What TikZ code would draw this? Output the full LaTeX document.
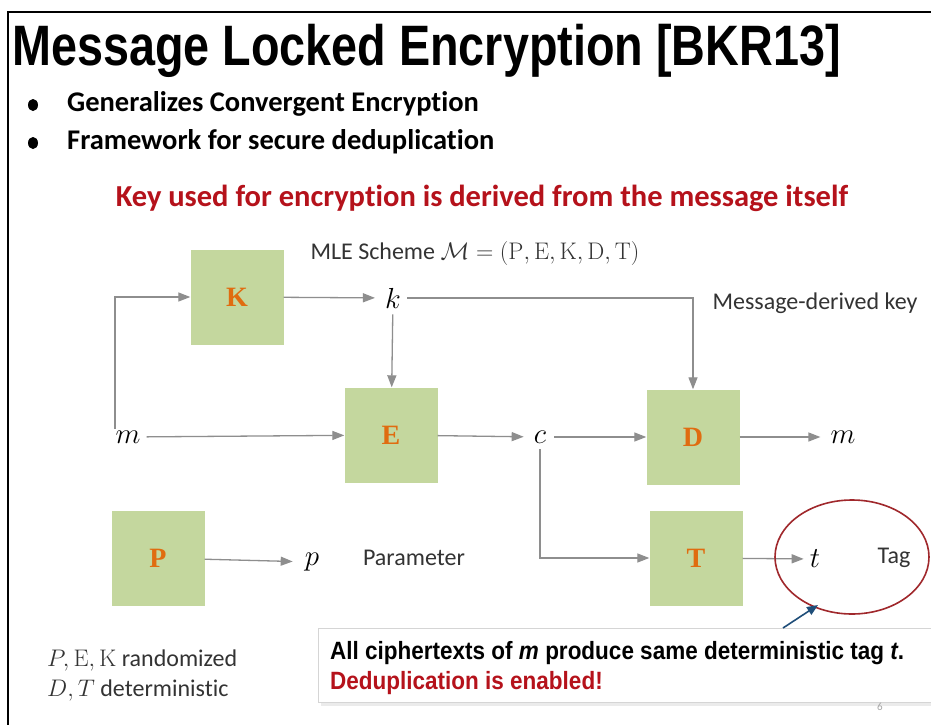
\RequirePackage{fix-cm}
\documentclass[tikz,border=0pt]{standalone}
\usepackage[no-math]{fontspec}
\setmainfont[Ligatures=NoCommon]{Carlito}
\newfontfamily\titlefont[FakeStretch=0.82]{Liberation Sans}
\newfontfamily\notefamily[FakeStretch=0.9]{Liberation Sans}
\newfontfamily\boxfont{Liberation Serif}
\usetikzlibrary{arrows.meta}
\definecolor{boxgreen}{HTML}{C4D79E}
\definecolor{letterorange}{HTML}{E06C10}
\definecolor{linegray}{HTML}{8E8E8E}
\definecolor{darkred}{HTML}{B5121B}
\definecolor{ringred}{HTML}{A0282C}
\definecolor{noteblue}{HTML}{1F4E79}
\definecolor{notegray}{HTML}{D5D5D5}
\tikzstyle{algo} = [fill=boxgreen, minimum width=93pt, minimum height=95pt, inner sep=0pt, text=letterorange, font=\boxfont\bfseries\fontsize{28}{28}\selectfont]
\tikzstyle{var} = [inner sep=2pt, font=\fontsize{29}{29}\selectfont]
\tikzstyle{flow} = [draw=linegray, line width=1.3pt, -{Triangle[length=12pt,width=9pt]}]
\tikzstyle{label} = [inner sep=0pt, font=\fontsize{24}{24}\selectfont, text=black!80]
\tikzstyle{bullet} = [anchor=west, inner sep=0pt, font=\bfseries\fontsize{28.5}{28.5}\selectfont]
\newcommand{\notefont}{\notefamily\bfseries\fontsize{25}{30}\selectfont}

\begin{document}
\begin{tikzpicture}[x=1pt,y=-1pt]
    \clip (0,0) rectangle (931,725);
    \fill[white] (0,0) rectangle (931,725);
    \draw[line width=2pt] (8,725) -- (8,12) -- (931,12);

    % heading
    \node[anchor=west, inner sep=0pt, font=\titlefont\bfseries\fontsize{57}{57}\selectfont] (title) at (12,51) {Message Locked Encryption [BKR13]};
    \node[bullet] (b1) at (67,104) {Generalizes Convergent Encryption};
    \node[bullet] (b2) at (67,142) {Framework for secure deduplication};
    \fill (33,105) ellipse [x radius=5pt, y radius=6pt];
    \fill (33,143) ellipse [x radius=5pt, y radius=6pt];
    \node[inner sep=0pt, text=darkred, font=\bfseries\fontsize{30.5}{30.5}\selectfont] (claim) at (482,198) {Key used for encryption is derived from the message itself};
    \node[label] (scheme) at (475,253) {MLE Scheme $\mathcal{M} = (\mathrm{P},\mathrm{E},\mathrm{K},\mathrm{D},\mathrm{T})$};

    % algorithms
    \node[algo] (K) at (237,297) {K};
    \node[algo] (E) at (391,435) {E};
    \node[algo] (D) at (693,437) {D};
    \node[algo] (T) at (696,558) {T};
    \node[algo] (P) at (158,558) {P};

    % values
    \node[var] (min) at (128,437) {$m$};
    \node[var] (k) at (393,298) {$k$};
    \node[var] (c) at (540,437) {$c$};
    \node[var] (mout) at (843,437) {$m$};
    \node[var] (t) at (815,559) {$t$};
    \node[var] (p) at (312,562) {$p$};
    \node[label] (keyname) at (815,303) {Message-derived key};
    \node[label] (tagname) at (894,558) {Tag};
    \node[label] (parname) at (414,558) {Parameter};

    % wiring
    \draw[flow] ([xshift=-13pt]min.north) |- (K.west);
    \draw[flow,shorten <=4pt] (min) -- (E);
    \draw[flow,shorten >=8pt] (K) -- (k);
    \draw[flow,shorten <=4pt] (k) -- (E);
    \draw[flow,shorten <=4pt] (k) -| (D.north);
    \draw[flow,shorten >=8pt] (E) -- (c);
    \draw[flow,shorten <=6pt] (c) -- (D);
    \draw[flow,shorten >=8pt] (D) -- (mout);
    \draw[flow,shorten <=4pt] (c) |- (T.west);
    \draw[flow,shorten >=4pt] (T) -- (t);
    \draw[flow,shorten >=10pt] (P) -- (p);

    % tag ring
    \draw[ringred, line width=1.6pt] (852,557) ellipse [x radius=77pt, y radius=57pt];
    \coordinate (ring) at (818,605);

    % remarks
    \node[anchor=west, inner sep=0pt, font=\fontsize{24}{24}\selectfont, text=black!80] (rand) at (47,660) {$P,\mathrm{E},\mathrm{K}$ randomized};
    \node[anchor=west, inner sep=0pt, font=\fontsize{24}{24}\selectfont, text=black!80] (det) at (47,690) {$D,T$ deterministic};
    \fill[black!8] (321,631) rectangle (940,706);
    \node[anchor=north west, draw=notegray, fill=white, line width=1pt, minimum width=640pt, minimum height=74pt, inner sep=0pt] (note) at (318,628) {};
    \node[anchor=west, inner sep=0pt, font=\notefont] (note1) at (330,653) {All ciphertexts of \textit{m} produce same deterministic tag \textit{t}.};
    \node[anchor=west, inner sep=0pt, font=\notefont, text=darkred] (note2) at (330,683) {Deduplication is enabled!};
    \draw[noteblue, line width=1.6pt, -{Triangle[length=11pt,width=9pt]}] (783,628) -- (ring);
    \node[inner sep=0pt, text=black!35, font=\fontsize{11}{11}\selectfont] (page) at (880,707) {6};
\end{tikzpicture}
\end{document}
